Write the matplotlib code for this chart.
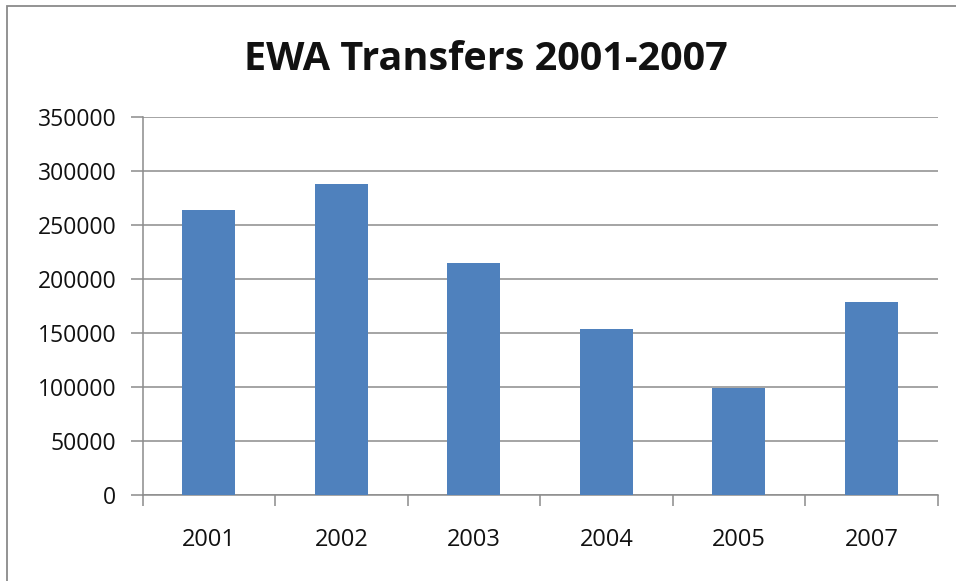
import matplotlib
matplotlib.use('Agg')
from matplotlib import pyplot as plt
from matplotlib.patches import Rectangle

# data
years = ['2001', '2002', '2003', '2004', '2005', '2007']
transfers = [264000, 288000, 214500, 153400, 99500, 178700]
y_ticks = [0, 50000, 100000, 150000, 200000, 250000, 300000, 350000]

bar_color = '#4F81BD'
grid_color = '#8C8C8C'

plt.rcParams['font.family'] = ['Open Sans', 'DejaVu Sans']

fig = plt.figure(figsize=(9.56, 5.81), dpi=100)
W, H = 956, 581

# chart area border (runs off right and bottom of the picture)
fig.patches.append(Rectangle((7 / W, -0.1), 1.2, 1 - 6 / H + 0.1,
                             transform=fig.transFigure, fill=False,
                             edgecolor='#8A8A8A', linewidth=1.3))
# cut-off caption letter at the top-left
fig.text(3 / W, 1 + 10 / H, 'g', fontsize=14, color='#222222',
         ha='left', va='center', family='Liberation Serif')

ax = fig.add_axes([142.7 / W, 1 - 495 / H, (937.7 - 142.7) / W, (495 - 117) / H])

x = list(range(len(years)))
ax.bar(x, transfers, width=0.4, color=bar_color, zorder=3)

ax.set_ylim(0, 350000)
ax.set_xlim(-0.5, len(years) - 0.5)
ax.set_yticks(y_ticks)
ax.set_yticklabels([str(v) for v in y_ticks])
ax.yaxis.grid(True, color=grid_color, linewidth=1.1, zorder=0)

# ticks between categories, labels in the middle
ax.set_xticks([i - 0.5 for i in range(len(years) + 1)])
ax.set_xticklabels([])
ax.set_xticks(x, minor=True)
ax.set_xticklabels(years, minor=True)
ax.tick_params(axis='x', which='major', direction='out', length=8,
               color=grid_color, width=1.1)
ax.tick_params(axis='x', which='minor', length=0, pad=24, labelsize=17,
               labelcolor='#111111')
ax.tick_params(axis='y', direction='out', length=9, color=grid_color, width=1.1,
               pad=10, labelsize=16.5, labelcolor='#111111')

for s in ['top', 'right']:
    ax.spines[s].set_visible(False)
for s in ['left', 'bottom']:
    ax.spines[s].set_color(grid_color)
    ax.spines[s].set_linewidth(1.1)

fig.text(486 / W, 1 - 60 / H, 'EWA Transfers 2001-2007', fontsize=28.5,
         fontweight='bold', ha='center', va='center', color='#111111')

fig.savefig('out.png', dpi=100)
